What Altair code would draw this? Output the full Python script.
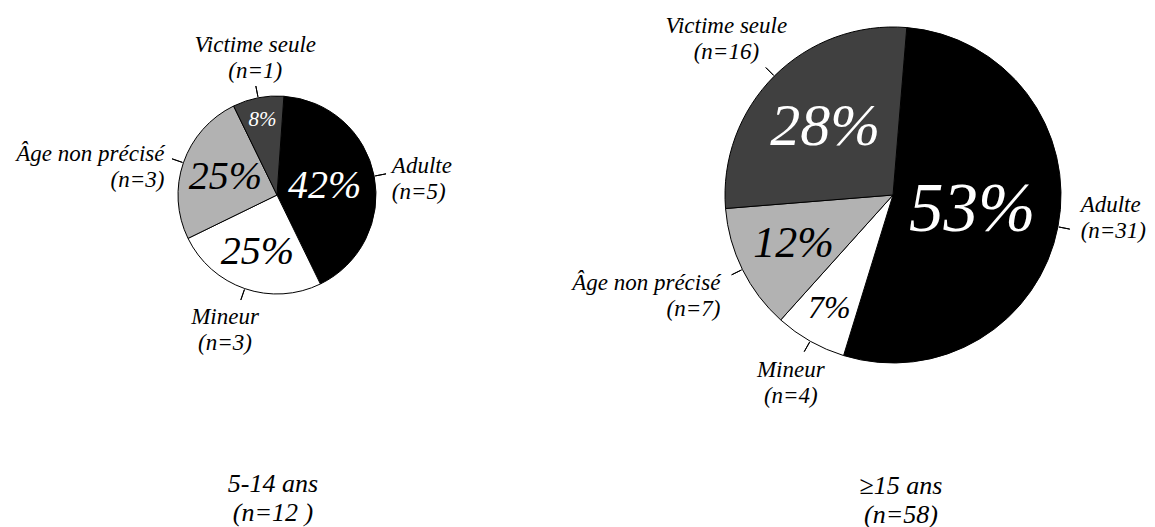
import altair as alt
import pandas as pd

# ---------------- data ----------------
categories = ["Adulte", "Mineur", "Âge non précisé", "Victime seule"]
counts_5_14 = [5, 3, 3, 1]
counts_15_plus = [31, 4, 7, 16]
group_names = ["5-14 ans", "≥15 ans"]
group_n_texts = ["(n=12 )", "(n=58)"]

# ---------------- styles ----------------
FONT = "'Liberation Serif', 'Times New Roman', 'DejaVu Serif', serif"
slice_colors = ["#000000", "#ffffff", "#b2b2b2", "#404040"]
pct_text_colors = ["#ffffff", "#000000", "#000000", "#ffffff"]
PANEL_H = 374
LABEL_SIZE = 23
LABEL_LINE = 26

pie_styles = [
    dict(radius=99, start_deg=4.0, width=538,
         pct_size=[40, 40, 40, 21], pct_rfrac=[0.49, 0.61, 0.55, 0.77],
         label_gap=[17, 46, 17, 40], label_nudge=[3, 2, -5, 2],
         title_dx=-4, title_offset=89),
    dict(radius=168, start_deg=4.7, width=494,
         pct_size=[69, 32, 44, 60], pct_rfrac=[0.48, 0.77, 0.66, 0.57],
         label_gap=[21, 46, 32, 60], label_nudge=[-4, -1, -4, -2],
         title_dx=8, title_offset=65),
]


def make_panel(counts, style, name, n_text):
    R = style["radius"]
    df = pd.DataFrame({
        "category": categories,
        "count": counts,
        "order": list(range(len(categories))),
        "fill_color": slice_colors,
        "pct_color": pct_text_colors,
        "pct_size": style["pct_size"],
        "pct_rfrac": style["pct_rfrac"],
        "label_gap": style["label_gap"],
        "label_nudge": style["label_nudge"],
    })
    start = style["start_deg"]
    base = (
        alt.Chart(df)
        .transform_joinaggregate(total="sum(count)")
        .transform_window(cum="sum(count)", sort=[alt.SortField("order")], frame=[None, 0])
        .transform_calculate(
            a0=f"PI*{start}/180 + 2*PI*(datum.cum - datum.count)/datum.total",
            a1=f"PI*{start}/180 + 2*PI*datum.cum/datum.total",
        )
        .transform_calculate(
            mid="(datum.a0 + datum.a1)/2",
        )
        .transform_calculate(
            mid2="datum.mid + 0.0005",
            pct_label="format(100*datum.count/datum.total, '.0f') + '%'",
            pct_r=f"datum.pct_rfrac*{R}",
            lab_theta="datum.mid + datum.label_nudge*PI/180",
            lab_r=f"{R} + datum.label_gap",
            lab_text="datum.category + '\\n(n=' + datum.count + ')'",
            side="sin(datum.mid) > 0.8 ? 'left' : (sin(datum.mid) < -0.8 ? 'right' : 'center')",
        )
    )

    slices = base.mark_arc(radius=R, stroke="black", strokeWidth=1).encode(
        theta=alt.Theta("a0:Q", scale=None, stack=None),
        theta2=alt.Theta2("a1:Q"),
        fill=alt.Fill("fill_color:N", scale=None),
    )
    ticks = base.mark_arc(radius=R + 12, radius2=R + 1, stroke="black", strokeWidth=1,
                          fill="black").encode(
        theta=alt.Theta("mid:Q", scale=None, stack=None),
        theta2=alt.Theta2("mid2:Q"),
    )
    pct = base.mark_text(font=FONT, fontStyle="italic", align="center", baseline="middle").encode(
        theta=alt.Theta("mid:Q", scale=None, stack=None),
        radius=alt.Radius("pct_r:Q", scale=None),
        text="pct_label:N",
        size=alt.Size("pct_size:Q", scale=None),
        color=alt.Color("pct_color:N", scale=None),
    )
    label_layers = []
    for side in ["left", "center", "right"]:
        label_layers.append(
            base.transform_filter(f"datum.side == '{side}'")
            .mark_text(font=FONT, fontStyle="italic", fontSize=LABEL_SIZE, align=side,
                       baseline="middle", lineBreak="\n", lineHeight=LABEL_LINE,
                       dy=-LABEL_LINE / 2, color="black")
            .encode(
                theta=alt.Theta("lab_theta:Q", scale=None, stack=None),
                radius=alt.Radius("lab_r:Q", scale=None),
                text="lab_text:N",
            )
        )
    return alt.layer(slices, ticks, pct, *label_layers).properties(
        width=style["width"],
        height=PANEL_H,
        title=alt.TitleParams(
            text=[name, n_text], orient="bottom", anchor="middle", frame="group",
            font=FONT, fontStyle="italic", fontSize=26, fontWeight="normal",
            lineHeight=29, offset=style["title_offset"], dx=style["title_dx"],
            color="black",
        ),
    )


p1 = make_panel(counts_5_14, pie_styles[0], group_names[0], group_n_texts[0])
p2 = make_panel(counts_15_plus, pie_styles[1], group_names[1], group_n_texts[1])

chart = (
    alt.hconcat(p1, p2, spacing=100, bounds="flush")
    .properties(padding=0, background="white")
    .configure_view(stroke=None)
)

chart.save("out.html", embed_options={"renderer": "svg", "actions": False})
